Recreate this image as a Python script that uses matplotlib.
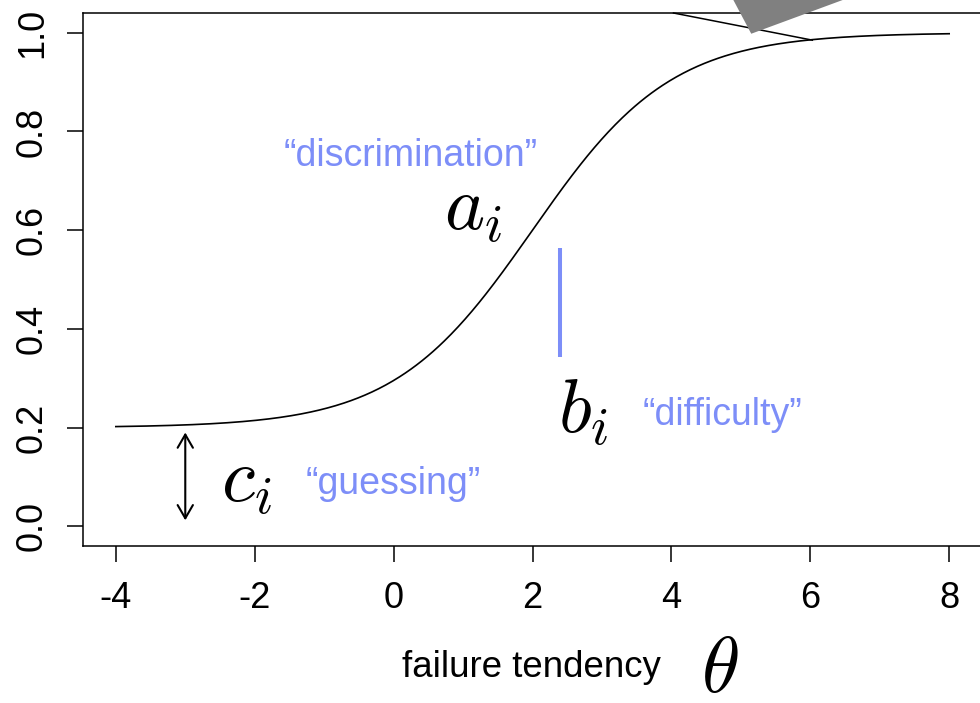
import numpy as np
import matplotlib
matplotlib.use("Agg")
import matplotlib.pyplot as plt
from matplotlib.patches import Polygon

plt.rcParams["font.family"] = ["Liberation Sans", "DejaVu Sans"]
plt.rcParams["mathtext.fontset"] = "cm"

# item parameters of the 3PL item characteristic curve
a_i = 1.0    # discrimination
b_i = 2.0    # difficulty
c_i = 0.2    # guessing
theta_range = (-4, 8)

x_ticks = [-4, -2, 0, 2, 4, 6, 8]
y_ticks = [0.0, 0.2, 0.4, 0.6, 0.8, 1.0]

BLUE = "#7d8ef8"

theta = np.linspace(theta_range[0], theta_range[1], 600)
p = c_i + (1 - c_i) / (1 + np.exp(-a_i * (theta - b_i)))

fig = plt.figure(figsize=(9.8, 7.03), dpi=100)
ax = fig.add_axes([82.5 / 980, (703 - 546) / 703, 900 / 980, 533 / 703])
ax.plot(theta, p, color="black", lw=1.2)
ax.set_xlim(-4.48, 8.48)
ax.set_ylim(-0.04, 1.04)

for s in ax.spines.values():
    s.set_linewidth(1.1)
ax.set_xticks(x_ticks)
ax.set_xticklabels([f"{v:d}" for v in x_ticks])
ax.set_yticks(y_ticks)
ax.set_yticklabels([f"{v:.1f}" for v in y_ticks], rotation=90, va="center")
ax.tick_params(axis="both", direction="out", length=11.5, width=1.1,
               labelsize=26)
ax.tick_params(axis="x", pad=14)
ax.tick_params(axis="y", pad=12)

# guessing: lower asymptote arrow
ax.annotate("", xy=(-3, 0.012), xytext=(-3, 0.19),
            arrowprops=dict(arrowstyle="<->,head_length=0.95,head_width=0.55",
                            lw=1.5, color="black", shrinkA=0, shrinkB=0))
# difficulty marker
ax.plot([2.4, 2.4], [0.343, 0.564], color=BLUE, lw=2.9, solid_capstyle="butt")

# pointer at the upper asymptote
ax.plot([4.03, 6.03], [1.04, 0.985], color="black", lw=1.1, clip_on=False)
ax.add_patch(Polygon([(5.15, 0.998), (4.69, 1.12), (7.50, 1.12)],
                     closed=True, facecolor="#808080", edgecolor="none",
                     clip_on=False, zorder=5))

ax.text(0.72, 0.600, r"$a_i$", fontsize=55, ha="left", va="baseline")
ax.text(2.36, 0.189, r"$b_i$", fontsize=55, ha="left", va="baseline")
ax.text(-2.48, 0.049, r"$c_i$", fontsize=55, ha="left", va="baseline")

ax.text(0.25, 0.730, "\u201cdiscrimination\u201d", color=BLUE, fontsize=27,
        ha="center", va="baseline")
ax.text(4.74, 0.205, "\u201cdifficulty\u201d", color=BLUE, fontsize=27,
        ha="center", va="baseline")
ax.text(-0.01, 0.066, "\u201cguessing\u201d", color=BLUE, fontsize=27,
        ha="center", va="baseline")

ax.text(1.99, -0.306, "failure tendency", fontsize=26.4, ha="center",
        va="baseline", clip_on=False)
ax.text(4.70, -0.336, r"$\theta$", fontsize=56, ha="center", va="baseline",
        clip_on=False)

fig.savefig("out.png", dpi=100)
